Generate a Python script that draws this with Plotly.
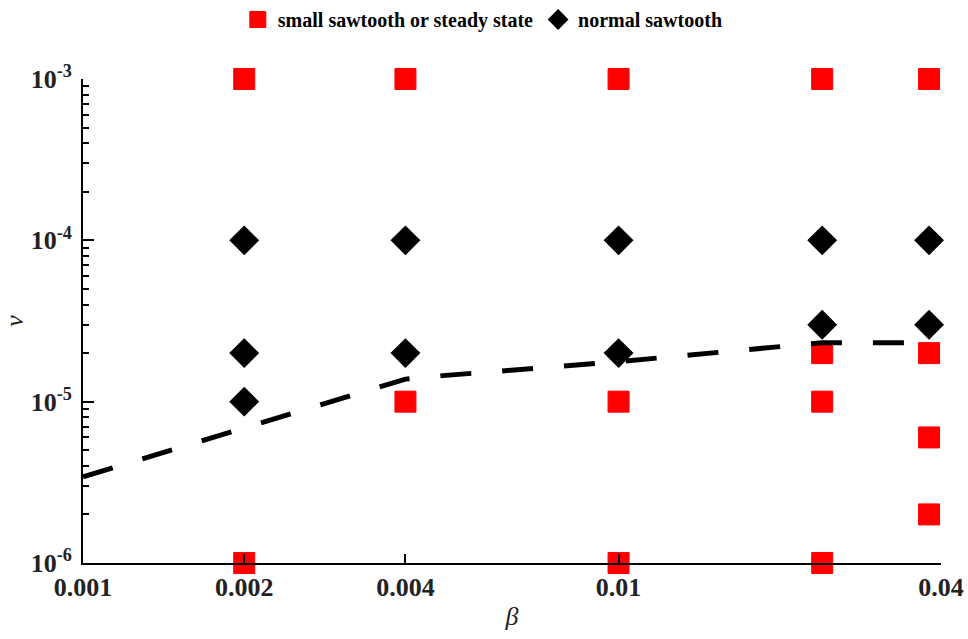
import plotly.graph_objects as go

# Runs classified as small sawtooth / steady state
small_beta = [0.002, 0.004, 0.01, 0.024, 0.038,
              0.004, 0.01, 0.024, 0.024, 0.038, 0.038, 0.038,
              0.002, 0.01, 0.024]
small_nu = [1e-3, 1e-3, 1e-3, 1e-3, 1e-3,
            1e-5, 1e-5, 2e-5, 1e-5, 2e-5, 6e-6, 2e-6,
            1e-6, 1e-6, 1e-6]

# Runs classified as normal sawtooth
normal_beta = [0.002, 0.004, 0.01, 0.024, 0.038,
               0.002, 0.004, 0.01,
               0.024, 0.038,
               0.002]
normal_nu = [1e-4, 1e-4, 1e-4, 1e-4, 1e-4,
             2e-5, 2e-5, 2e-5,
             3e-5, 3e-5,
             1e-5]

# Boundary between the two regimes
bound_beta = [0.001, 0.002, 0.004, 0.0047, 0.01, 0.024, 0.038]
bound_nu = [3.42e-6, 6.9e-6, 1.38e-5, 1.45e-5, 1.77e-5, 2.32e-5, 2.32e-5]

x_ticks = [0.001, 0.002, 0.004, 0.01, 0.04]
x_ticktext = ["0.001", "0.002", "0.004", "0.01", "0.04"]
y_ticks = [1e-6, 1e-5, 1e-4, 1e-3]
y_ticktext = ["10<sup>-6</sup>", "10<sup>-5</sup>", "10<sup>-4</sup>", "10<sup>-3</sup>"]
y_minor = [m * d for d in (1e-6, 1e-5, 1e-4) for m in range(2, 10)]

SERIF = "Liberation Serif"

fig = go.Figure()

fig.add_trace(go.Scatter(
    x=small_beta, y=small_nu, mode="markers",
    name="small sawtooth or steady state", cliponaxis=False,
    marker=dict(symbol="square", size=21, color="#ff0000",
                line=dict(width=1, color="#ff0000")),
))

fig.add_trace(go.Scatter(
    x=normal_beta, y=normal_nu, mode="markers",
    name="normal sawtooth", cliponaxis=False,
    marker=dict(symbol="diamond", size=23, color="black"),
))

fig.add_trace(go.Scatter(
    x=bound_beta, y=bound_nu, mode="lines",
    showlegend=False, cliponaxis=False,
    line=dict(color="black", width=5, dash="31px,31px"),
))

fig.update_layout(
    width=968, height=639,
    margin=dict(l=83, r=27, t=79, b=76),
    paper_bgcolor="white", plot_bgcolor="white",
    font=dict(family=SERIF, color="#1a1a1a"),
    legend=dict(
        orientation="h", x=0.466, xanchor="center", xref="paper",
        y=1.0, yref="container", yanchor="top",
        font=dict(family=SERIF, size=20, weight="bold", color="black"),
        itemsizing="trace", tracegroupgap=0, itemwidth=30,
    ),
    xaxis=dict(
        type="log", range=[-3, -1.39794], automargin=False,
        tickvals=x_ticks, ticktext=x_ticktext,
        ticks="inside", ticklen=9, tickwidth=2, tickcolor="black",
        ticklabelstandoff=0,
        showline=True, linecolor="black", linewidth=2,
        showgrid=False, zeroline=False,
        tickfont=dict(family=SERIF, size=26, weight="bold", color="#222"),
        title=dict(text="<i>β</i>", font=dict(family=SERIF, size=26, color="#222"),
                   standoff=6),
    ),
    yaxis=dict(
        type="log", range=[-6.0001, -2.9999], automargin=False,
        tickvals=y_ticks, ticktext=y_ticktext,
        ticks="inside", ticklen=11, tickwidth=2, tickcolor="black",
        ticklabelstandoff=4,
        showline=True, linecolor="black", linewidth=2,
        showgrid=False, zeroline=False,
        minor=dict(tickvals=y_minor, ticks="inside", ticklen=6, tickwidth=2,
                   tickcolor="black", showgrid=False),
        tickfont=dict(family=SERIF, size=26, weight="bold", color="#222"),
        title=dict(text="<i>ν</i>", font=dict(family=SERIF, size=26, color="#222"),
                   standoff=6),
    ),
)

fig.write_html("out.html")
